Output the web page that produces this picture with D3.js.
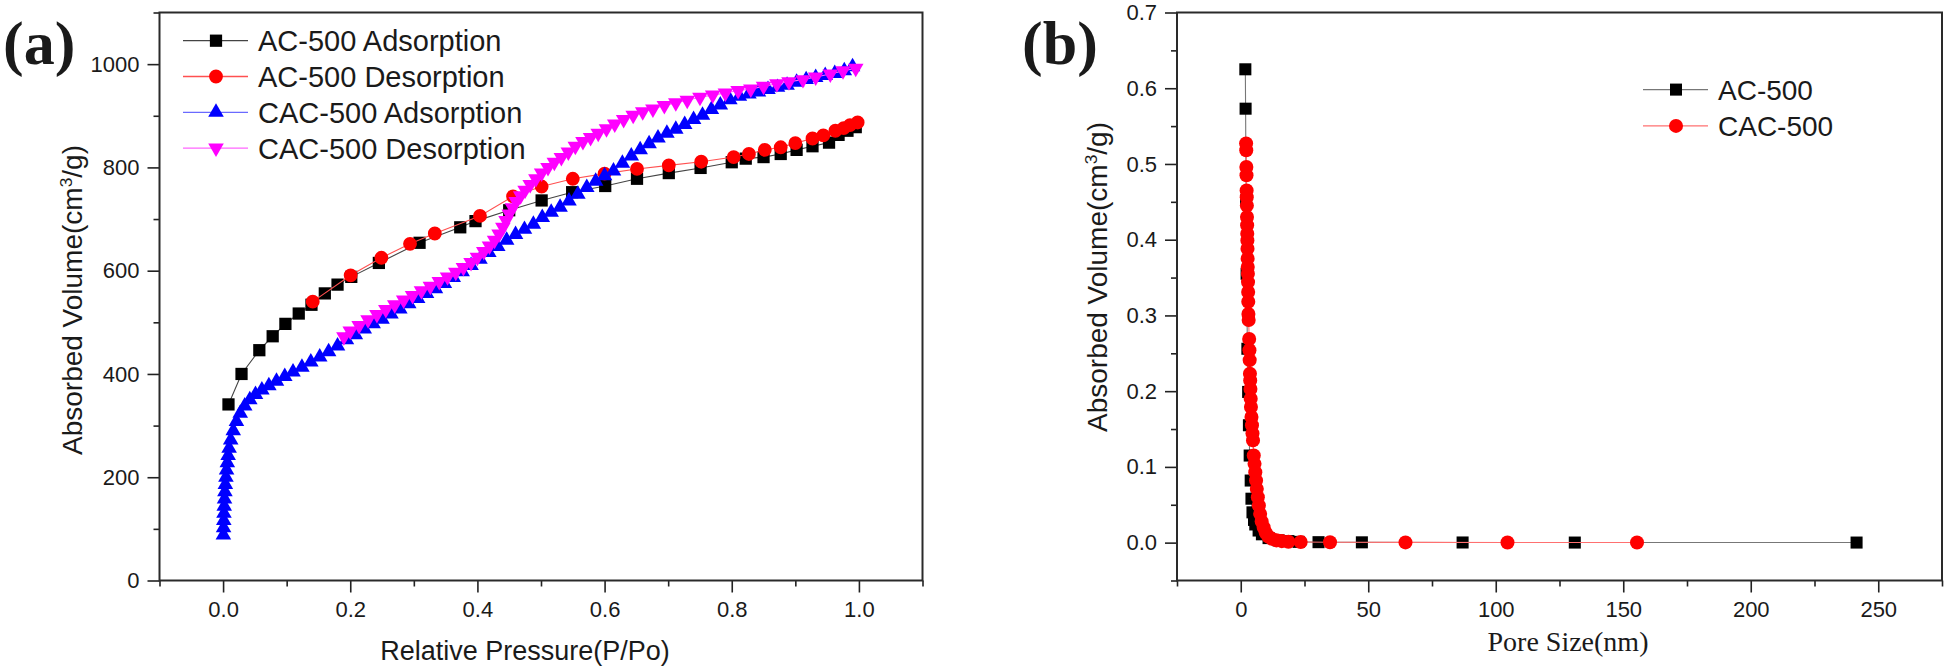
<!DOCTYPE html>
<html>
<head>
<meta charset="utf-8">
<script src="https://cdn.jsdelivr.net/npm/d3@7"></script>
<style>
  body { margin: 0; background: #fff; }
  svg { display: block; }
  text { font-family: "Liberation Sans", Arial, sans-serif; fill: #1a1a1a; }
</style>
</head>
<body>
<svg id="chart" width="1946" height="669"></svg>
<script>
// ---- panel (a): N2 isotherms, relative pressure vs absorbed volume ----
const acAdsP = [0.0085, 0.029, 0.057, 0.078, 0.098, 0.119, 0.139, 0.160, 0.180, 0.2016, 0.245, 0.309, 0.373, 0.397, 0.450, 0.501, 0.549, 0.601, 0.651, 0.701, 0.751, 0.800, 0.822, 0.850, 0.877, 0.902, 0.927, 0.953, 0.968, 0.982, 0.995];
const acAdsV = [341, 400, 446, 473, 497, 517, 534, 556, 573, 588, 615, 654, 684, 696, 717, 736, 752, 764, 778, 789, 799, 810, 817, 820, 826, 834, 841, 848, 863, 871, 878];

const acDesP = [0.998, 0.986, 0.976, 0.963, 0.944, 0.927, 0.900, 0.877, 0.852, 0.827, 0.803, 0.752, 0.701, 0.651, 0.600, 0.550, 0.501, 0.456, 0.404, 0.333, 0.294, 0.249, 0.2006, 0.141];
const acDesV = [887, 882, 876, 871, 862, 856, 847, 839, 834, 826, 820, 811, 804, 797, 788, 778, 763, 744, 706, 672, 652, 625, 591, 540];

const cacAdsP = [0.0005, 0.0008, 0.0011, 0.0014, 0.0018, 0.0023, 0.0029, 0.0036, 0.0045, 0.0055, 0.0067, 0.008, 0.0095, 0.012, 0.016, 0.021, 0.027, 0.034, 0.042, 0.051, 0.061, 0.072, 0.084, 0.097, 0.110, 0.124, 0.138, 0.152, 0.166, 0.180, 0.194, 0.208, 0.222, 0.236, 0.250, 0.264, 0.278, 0.292, 0.306, 0.320, 0.334, 0.348, 0.362, 0.376, 0.390, 0.404, 0.418, 0.432, 0.446, 0.460, 0.474, 0.488, 0.502, 0.516, 0.530, 0.544, 0.558, 0.572, 0.586, 0.600, 0.614, 0.628, 0.642, 0.656, 0.670, 0.684, 0.698, 0.712, 0.726, 0.740, 0.754, 0.768, 0.782, 0.797, 0.812, 0.827, 0.842, 0.857, 0.872, 0.887, 0.902, 0.917, 0.932, 0.947, 0.962, 0.977, 0.990];
const cacAdsV = [88, 102, 116, 130, 144, 158, 172, 186, 200, 214, 228, 242, 256, 272, 290, 308, 324, 338, 350, 360, 369, 377, 386, 395, 404, 413, 423, 433, 443, 454, 466, 476, 487, 497, 506, 516, 526, 536, 546, 556, 565, 575, 587, 598, 610, 622, 635, 647, 659, 670, 680, 690, 703, 713, 723, 735, 748, 761, 773, 784, 793, 808, 822, 834, 846, 857, 866, 874, 883, 893, 901, 912, 921, 931, 938, 942, 946, 951, 955, 959, 965, 970, 974, 978, 982, 987, 995];

const cacDesP = [0.995, 0.975, 0.955, 0.932, 0.912, 0.890, 0.871, 0.850, 0.830, 0.810, 0.790, 0.770, 0.750, 0.730, 0.712, 0.694, 0.676, 0.660, 0.645, 0.630, 0.616, 0.603, 0.590, 0.578, 0.566, 0.554, 0.543, 0.532, 0.521, 0.511, 0.501, 0.492, 0.483, 0.475, 0.468, 0.461, 0.455, 0.450, 0.445, 0.440, 0.434, 0.427, 0.419, 0.410, 0.400, 0.390, 0.378, 0.366, 0.353, 0.340, 0.326, 0.312, 0.298, 0.284, 0.270, 0.256, 0.242, 0.228, 0.214, 0.200, 0.190];
const cacDesV = [992, 987, 981, 975, 970, 966, 962, 957, 952, 949, 944, 940, 936, 930, 925, 920, 913, 908, 901, 893, 884, 875, 866, 858, 850, 841, 830, 819, 810, 800, 789, 778, 767, 756, 745, 734, 722, 710, 697, 684, 671, 659, 648, 637, 626, 616, 606, 597, 588, 579, 570, 561, 552, 543, 534, 525, 515, 505, 494, 483, 472];

const aXTicks = [0, 0.2, 0.4, 0.6, 0.8, 1.0];
const aXMinor = [-0.1, 0.1, 0.3, 0.5, 0.7, 0.9, 1.1];
const aYTicks = [0, 200, 400, 600, 800, 1000];
const aYMinor = [100, 300, 500, 700, 900, 1100];
const aLegend = ['AC-500 Adsorption', 'AC-500 Desorption', 'CAC-500 Adsorption', 'CAC-500 Desorption'];

// ---- panel (b): pore size distribution ----
const acSize = [1.8, 1.9, 2.1, 2.3, 2.6, 2.9, 3.2, 3.5, 3.9, 4.2, 4.6, 5.2, 5.7, 7.0, 8.3, 10.9, 14.8, 18.7, 22.7, 30.5, 47.5, 87, 131, 241.5];
const acVol = [0.625, 0.573, 0.452, 0.355, 0.256, 0.199, 0.155, 0.115, 0.082, 0.058, 0.040, 0.030, 0.024, 0.016, 0.011, 0.006, 0.003, 0.002, 0.001, 0.0006, 0.0004, 0.0002, 0.0001, 0.0001];

const cacSize = [2.1, 2.15, 2.2, 2.25, 2.3, 2.35, 2.4, 2.45, 2.5, 2.55, 2.6, 2.65, 2.7, 2.75, 2.8, 2.85, 2.9, 2.95, 3.0, 3.1, 3.3, 3.4, 3.5, 3.6, 3.7, 3.8, 3.9, 4.0, 4.2, 4.4, 4.6, 4.8, 5.1, 5.4, 5.7, 6.0, 6.3, 6.7, 7.1, 7.6, 8.2, 9.0, 9.8, 10.8, 12.2, 14, 16.1, 18.7, 23.5, 35, 64.6, 104.6, 155.4];
const cacVol = [0.527, 0.518, 0.496, 0.485, 0.465, 0.456, 0.445, 0.430, 0.419, 0.408, 0.399, 0.388, 0.375, 0.364, 0.355, 0.344, 0.331, 0.318, 0.302, 0.294, 0.269, 0.254, 0.241, 0.223, 0.214, 0.203, 0.190, 0.179, 0.166, 0.155, 0.144, 0.135, 0.115, 0.104, 0.093, 0.082, 0.071, 0.060, 0.049, 0.038, 0.028, 0.020, 0.013, 0.008, 0.005, 0.003, 0.002, 0.0012, 0.0008, 0.0005, 0.0003, 0.0002, 0.0001];

const bXTicks = [0, 50, 100, 150, 200, 250];
const bXMinor = [-25, 25, 75, 125, 175, 225, 275];
const bYTicks = [0, 0.1, 0.2, 0.3, 0.4, 0.5, 0.6, 0.7];
const bYMinor = [-0.05, 0.05, 0.15, 0.25, 0.35, 0.45, 0.55, 0.65];
const bLegend = ['AC-500', 'CAC-500'];

const svg = d3.select('#chart');
svg.append('rect').attr('width', 1946).attr('height', 669).attr('fill', '#fff');

function drawAxes(x, y, xt, xm, yt, ym, fx, fy) {
  const [x0, x1] = x.range();
  const [y0, y1] = y.range();
  const g = svg.append('g');
  const clean = (s) => { s.select('.domain').remove(); s.selectAll('line').attr('stroke', '#222').attr('stroke-width', 1.6); };
  g.append('g').attr('transform', `translate(0,${y0})`)
    .call(d3.axisBottom(x).tickValues(xm).tickSize(6).tickFormat('')).call(clean);
  g.append('g').attr('transform', `translate(0,${y0})`)
    .call(d3.axisBottom(x).tickValues(xt).tickSize(12).tickPadding(9).tickFormat(fx)).call(clean)
    .selectAll('text').attr('font-size', 22).attr('fill', '#1a1a1a');
  g.append('g').attr('transform', `translate(${x0},0)`)
    .call(d3.axisLeft(y).tickValues(ym).tickSize(6).tickFormat('')).call(clean);
  g.append('g').attr('transform', `translate(${x0},0)`)
    .call(d3.axisLeft(y).tickValues(yt).tickSize(12).tickPadding(8).tickFormat(fy)).call(clean)
    .selectAll('text').attr('font-size', 22).attr('fill', '#1a1a1a');
  g.append('rect')
    .attr('x', x0).attr('y', y1).attr('width', x1 - x0).attr('height', y0 - y1)
    .attr('fill', 'none').attr('stroke', '#2a2a2a').attr('stroke-width', 2);
}

function drawSeries(x, y, xs, ys, s) {
  const pts = d3.zip(xs, ys);
  svg.append('path').datum(pts)
    .attr('d', d3.line().x((d) => x(d[0])).y((d) => y(d[1])))
    .attr('fill', 'none').attr('stroke', s.line).attr('stroke-width', 1.1);
  svg.append('g').selectAll('path').data(pts).join('path')
    .attr('d', d3.symbol(s.type, s.size))
    .attr('transform', (d) => `translate(${x(d[0])},${y(d[1])}) rotate(${s.rot || 0})`)
    .attr('fill', s.fill);
}

function drawLegend(names, styles, lx, rowY, gap, fontSize) {
  names.forEach((name, i) => {
    const s = styles[i];
    const cy = rowY + i * gap;
    svg.append('line').attr('x1', lx).attr('x2', lx + 65).attr('y1', cy).attr('y2', cy)
      .attr('stroke', s.line).attr('stroke-width', 1.3);
    svg.append('path').attr('d', d3.symbol(s.type, s.size))
      .attr('transform', `translate(${lx + 33},${cy}) rotate(${s.rot || 0})`).attr('fill', s.fill);
    svg.append('text').attr('x', lx + 75).attr('y', cy).attr('dy', '0.36em')
      .attr('font-size', fontSize).text(name);
  });
}

function sup(sel, before, after) {
  sel.append('tspan').text(before);
  sel.append('tspan').attr('baseline-shift', 'super').attr('font-size', '62%').text('3');
  sel.append('tspan').text(after);
}

// ---------- panel (a) ----------
const xA = d3.scaleLinear().domain([-0.1, 1.1]).range([159.5, 922.5]);
const yA = d3.scaleLinear().domain([0, 1100]).range([580.5, 12.5]);

const aStyles = [
  { line: '#444', fill: '#000', type: d3.symbolSquare, size: 150 },
  { line: '#ff5050', fill: '#ff0000', type: d3.symbolCircle, size: 150 },
  { line: '#6a6aff', fill: '#0000ff', type: d3.symbolTriangle, size: 105 },
  { line: '#ff66ff', fill: '#ff00ff', type: d3.symbolTriangle, size: 105, rot: 180 },
];

drawAxes(xA, yA, aXTicks, aXMinor, aYTicks, aYMinor, d3.format('.1f'), d3.format('d'));
drawSeries(xA, yA, acAdsP, acAdsV, aStyles[0]);
drawSeries(xA, yA, acDesP, acDesV, aStyles[1]);
drawSeries(xA, yA, cacAdsP, cacAdsV, aStyles[2]);
drawSeries(xA, yA, cacDesP, cacDesV, aStyles[3]);
drawLegend(aLegend, aStyles, 183, 40.7, 35.8, 29);

svg.append('text').attr('x', 525).attr('y', 660).attr('text-anchor', 'middle')
  .attr('font-size', 27).text('Relative Pressure(P/Po)');
sup(svg.append('text').attr('transform', 'translate(82,300) rotate(-90)')
  .attr('text-anchor', 'middle').attr('font-size', 28), 'Absorbed Volume(cm', '/g)');
svg.append('text').attr('x', 3).attr('y', 64)
  .style('font-family', '"Liberation Serif", "Times New Roman", serif')
  .attr('font-weight', 'bold').attr('font-size', 62).text('(a)');

// ---------- panel (b) ----------
const xB = d3.scaleLinear().domain([-25, 275]).range([1177, 1942]);
const yB = d3.scaleLinear().domain([-0.05, 0.7]).range([580.5, 12.5]);

const bStyles = [
  { line: '#777', fill: '#000', type: d3.symbolSquare, size: 145 },
  { line: '#ff7070', fill: '#ff0000', type: d3.symbolCircle, size: 155 },
];

drawAxes(xB, yB, bXTicks, bXMinor, bYTicks, bYMinor, d3.format('d'), d3.format('.1f'));
drawSeries(xB, yB, acSize, acVol, bStyles[0]);
drawSeries(xB, yB, cacSize, cacVol, bStyles[1]);
drawLegend(bLegend, bStyles, 1643, 89.6, 36.3, 28);

svg.append('text').attr('x', 1568).attr('y', 651).attr('text-anchor', 'middle')
  .style('font-family', '"Liberation Serif", "Times New Roman", serif')
  .attr('font-size', 28).text('Pore Size(nm)');
sup(svg.append('text').attr('transform', 'translate(1107,277) rotate(-90)')
  .attr('text-anchor', 'middle').attr('font-size', 28), 'Absorbed Volume(cm', '/g)');
svg.append('text').attr('x', 1022).attr('y', 64)
  .style('font-family', '"Liberation Serif", "Times New Roman", serif')
  .attr('font-weight', 'bold').attr('font-size', 62).text('(b)');
</script>
</body>
</html>
